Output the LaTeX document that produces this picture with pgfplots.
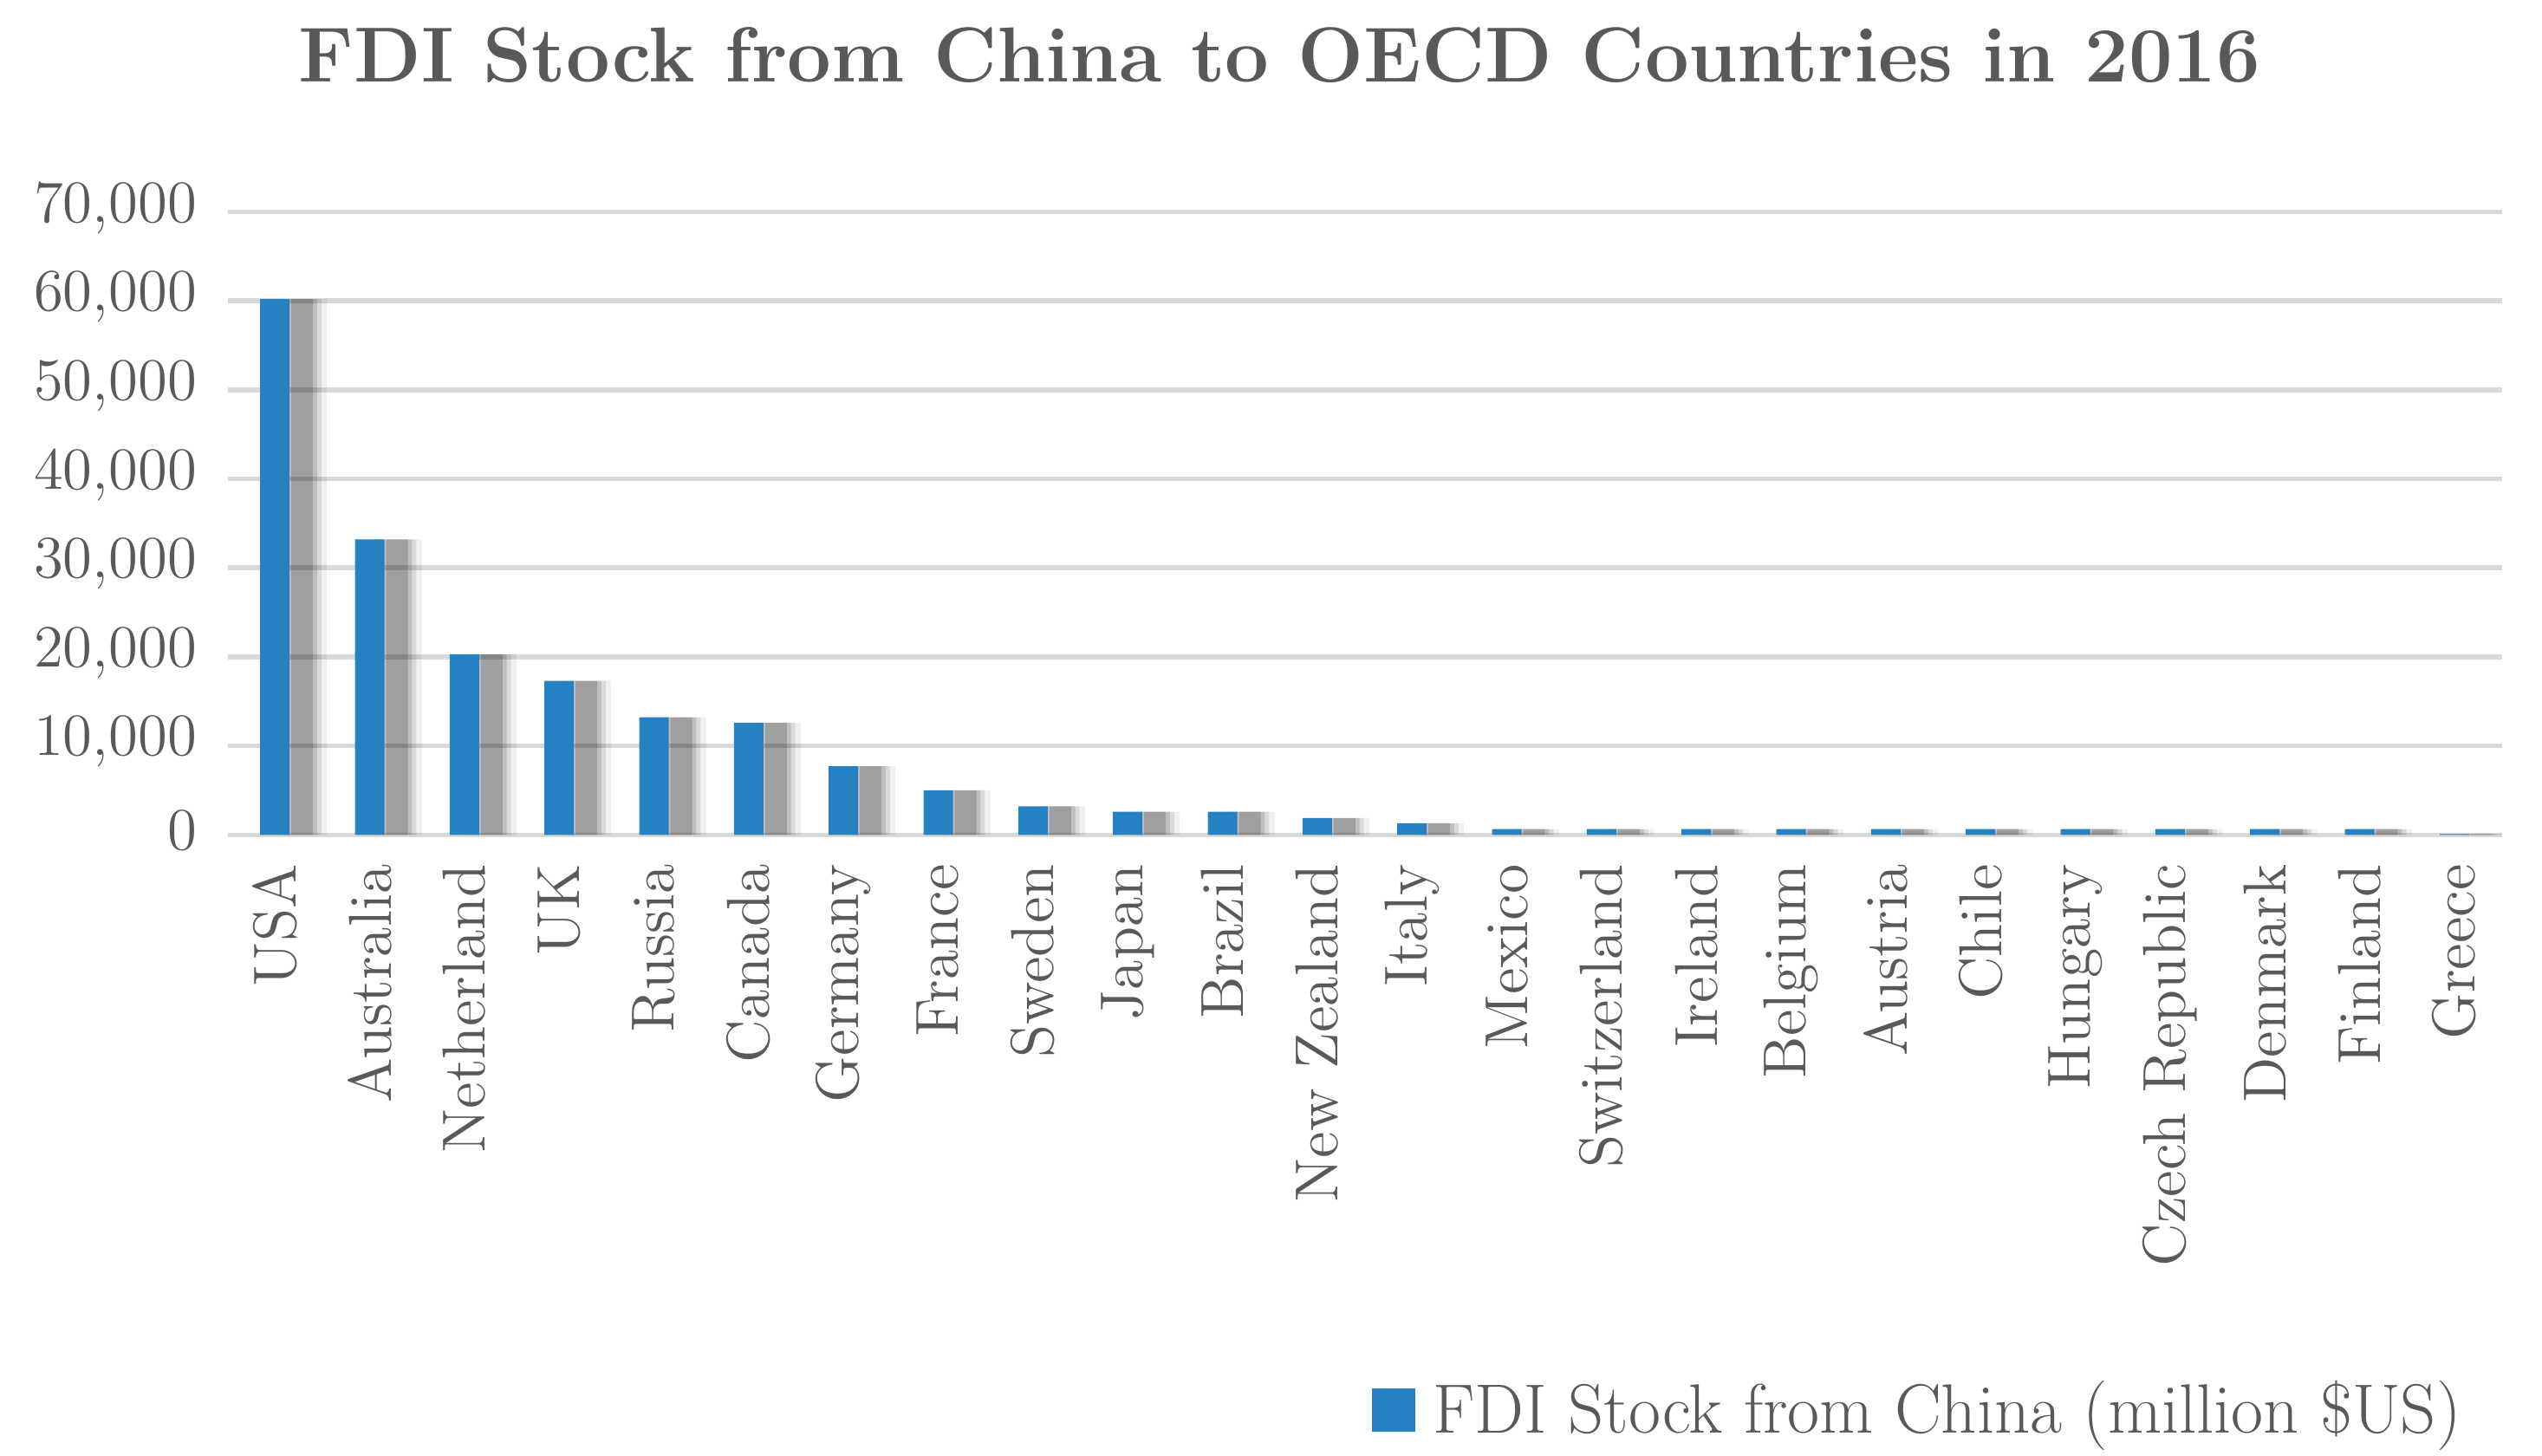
\documentclass[border=0pt]{standalone}
\usepackage{pgfplots}
\pgfplotsset{compat=1.18}
\definecolor{barblue}{RGB}{37,129,193}
\definecolor{txt}{RGB}{89,89,89}
\definecolor{gridc}{RGB}{217,217,217}
\pgfplotstableread{
x val
0 60200
1 33200
2 20300
3 17300
4 13200
5 12600
6 7700
7 5000
8 3200
9 2600
10 2600
11 1900
12 1300
13 650
14 650
15 650
16 650
17 650
18 650
19 650
20 650
21 650
22 650
23 80
}\fdidata
\begin{document}
\begin{tikzpicture}
\useasboundingbox (0,0) rectangle (586.6pt,335.8pt);
\begin{axis}[
  at={(52.5pt,143.14pt)}, anchor=south west,
  scale only axis, width=524.8pt, height=143.8pt,
  ymin=0, ymax=70000, ytick={0,10000,...,70000},
  xmin=-0.5, xmax=23.5, xtick={0,...,23},
  xticklabels={USA,Australia,Netherland,UK,Russia,Canada,Germany,France,Sweden,Japan,Brazil,New Zealand,Italy,Mexico,Switzerland,Ireland,Belgium,Austria,Chile,Hungary,Czech Republic,Denmark,Finland,Greece},
  axis line style={draw=none}, tick style={draw=none},
  ymajorgrids, grid style={gridc, line width=1.1pt},
  xticklabel style={rotate=90, anchor=east, font=\fontsize{14}{15}\selectfont, text=txt, xshift=-3.3pt},
  yticklabel style={font=\fontsize{13.8}{14}\selectfont, text=txt, xshift=-3.6pt, yshift=1pt},
  scaled y ticks=false,
  /pgf/number format/.cd, fixed, precision=0, 1000 sep={,}, assume math mode=true,
  /pgfplots/.cd,
  legend style={at={(0.9863,-0.923)}, anchor=east, draw=none, fill=none,
    font=\fontsize{16.1}{17}\selectfont, text=txt, inner sep=0pt},
]
\addplot[ybar, bar width=11pt, bar shift=6.5pt, fill=black, draw=none, opacity=0.06, forget plot] table[x=x,y=val]{\fdidata};
\addplot[ybar, bar width=8.5pt, bar shift=6.5pt, fill=black, draw=none, opacity=0.09, forget plot] table[x=x,y=val]{\fdidata};
\addplot[ybar, bar width=6.5pt, bar shift=6.5pt, fill=black, draw=none, opacity=0.12, forget plot] table[x=x,y=val]{\fdidata};
\addplot[ybar, bar width=5pt, bar shift=6.3pt, fill=black, draw=none, opacity=0.17, forget plot] table[x=x,y=val]{\fdidata};
\addplot[ybar, bar width=6.8pt, bar shift=0pt, fill=barblue, draw=none,
  legend image code/.code={\fill[barblue] (0pt,-4.95pt) rectangle (10pt,4.95pt); \path (12.1pt,0pt);}] table[x=x,y=val]{\fdidata};
\addlegendentry{FDI Stock from China (million \$US)}
\end{axis}
\node[anchor=base, font=\bfseries\fontsize{18}{21}\selectfont, text=txt] at (295.3pt,317pt) {FDI Stock from China to OECD Countries in 2016};
\end{tikzpicture}
\end{document}
